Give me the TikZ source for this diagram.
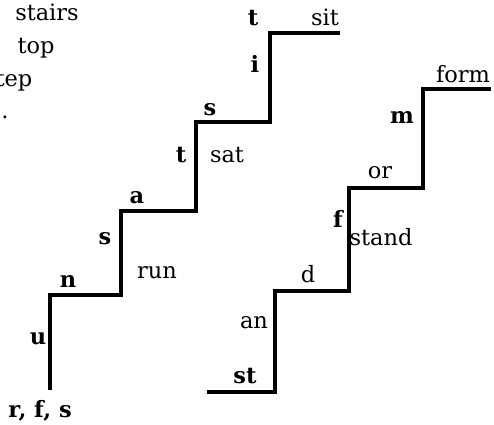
\documentclass[tikz,border=0pt]{standalone}
\usepackage{fontspec}
\setmainfont{DejaVu Serif}
\tikzset{
  lbl/.style={anchor=base, inner sep=0pt, font=\fontsize{22.5}{27}\selectfont},
  ltr/.style={lbl, font=\fontsize{22.5}{27}\selectfont\bfseries},
  stair/.style={line width=3.6pt, line join=miter}
}
\begin{document}
\begin{tikzpicture}[x=1pt, y=-1pt]
\useasboundingbox (0,0) rectangle (494,424);
% left staircase
\coordinate (a0) at (50,390);
\coordinate (a1) at (50,295);
\coordinate (a2) at (121,295);
\coordinate (a3) at (121,211);
\coordinate (a4) at (196,211);
\coordinate (a5) at (196,122);
\coordinate (a6) at (270,122);
\coordinate (a7) at (270,33);
\coordinate (a8) at (340,33);
\draw[stair] (a0) -- (a1) -- (a2) -- (a3) -- (a4) -- (a5) -- (a6) -- (a7) -- (a8);
% right staircase
\coordinate (b0) at (207,392);
\coordinate (b1) at (275,392);
\coordinate (b2) at (275,291);
\coordinate (b3) at (349,291);
\coordinate (b4) at (349,188);
\coordinate (b5) at (423,188);
\coordinate (b6) at (423,89);
\coordinate (b7) at (491,89);
\draw[stair] (b0) -- (b1) -- (b2) -- (b3) -- (b4) -- (b5) -- (b6) -- (b7);
% top-left words
\node[lbl] (w1) at (47,20) {stairs};
\node[lbl] (w2) at (36,53) {top};
\node[lbl] (w3) at (14,86) {tep};
\node[lbl] (w4) at (5,118) {.};
% left staircase labels
\node[ltr] (l1) at (40,417) {r, f, s};
\node[ltr] (l2) at (38,344) {u};
\node[ltr] (l3) at (68,287) {n};
\node[lbl] (l4) at (157,278) {run};
\node[ltr] (l5) at (105,244) {s};
\node[ltr] (l6) at (137,203) {a};
\node[ltr] (l7) at (181,162) {t};
\node[lbl] (l8) at (227,162) {sat};
\node[ltr] (l9) at (210,115) {s};
\node[ltr] (l10) at (255,72) {i};
\node[ltr] (l11) at (253,25) {t};
\node[lbl] (l12) at (325,25) {sit};
% right staircase labels
\node[ltr] (r1) at (245,383) {st};
\node[lbl] (r2) at (254,328) {an};
\node[lbl] (r3) at (308,282) {d};
\node[ltr] (r4) at (338,227) {f};
\node[lbl] (r5) at (381,245) {stand};
\node[lbl] (r6) at (380,178) {or};
\node[ltr] (r7) at (402,123) {m};
\node[lbl] (r8) at (463,82) {form};
\end{tikzpicture}
\end{document}
